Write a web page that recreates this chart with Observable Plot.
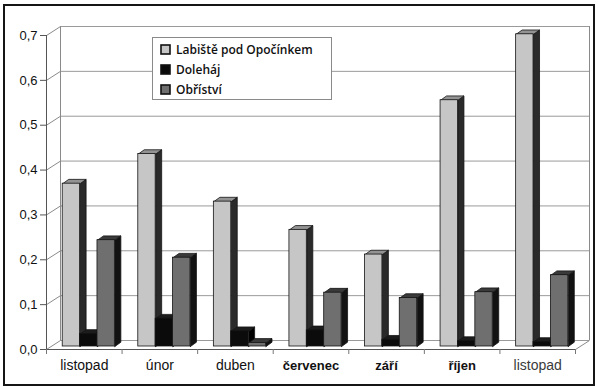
<!DOCTYPE html>
<html>
<head>
<meta charset="utf-8">
<script src="https://cdn.jsdelivr.net/npm/d3@7"></script>
<script src="https://cdn.jsdelivr.net/npm/@observablehq/plot@0.6"></script>
<style>
  html, body { margin: 0; padding: 0; background: #fff; }
  #chart { position: relative; width: 598px; height: 387px; overflow: hidden; }
  #chart > svg { position: absolute; left: 0; top: 0; }
  #border { position: absolute; left: 3px; top: 4px; width: 592px; height: 382px;
            box-sizing: border-box; border: 2px solid #151515; pointer-events: none; }
  #legend { position: absolute; left: 152px; top: 37px; width: 180px; height: 63px;
            box-sizing: border-box; border: 1px solid #8a8a8a; background: #fff;
            padding: 2px 0 0 8px; }
  #legend .lg-swatches { margin: 0 !important; columns: auto !important;
            font: 600 12px "Open Sans", sans-serif !important; color: #111; }
  #legend .lg-swatch { display: flex !important; align-items: center; height: 19.7px;
            padding: 0 !important; margin: 0 !important; }
  #legend .lg-swatch svg { margin-right: 6px !important; overflow: visible; }
  #legend .lg-swatch svg rect { stroke: #111; stroke-width: 1.6px; }
</style>
</head>
<body>
<div id="chart"><div id="border"></div></div>
<script>
// Months of sampling (November to the following November)
const months = ["listopad", "únor", "duben", "červenec", "září", "říjen", "listopad"];
// Sampling sites
const series = ["Labiště pod Opočínkem", "Doleháj", "Obříství"];
// Measured values per site, one per month
const labiste  = [0.363, 0.429, 0.323, 0.260, 0.205, 0.549, 0.696];
const dolehaj  = [0.028, 0.062, 0.034, 0.036, 0.015, 0.012, 0.010];
const obristvi = [0.237, 0.198, 0.008, 0.120, 0.108, 0.121, 0.159];
// Value axis ticks
const yTicks = [0, 0.1, 0.2, 0.3, 0.4, 0.5, 0.6, 0.7];

// Layout of the pseudo-3D column chart
const W = 598, H = 387;
const mL = 46, mR = 23, mT = 35, mB = 38;
const yMax = 0.7;
const ux = (W - mL - mR) / months.length;   // pixels per category
const uy = (H - mT - mB) / yMax;            // pixels per value unit
const wallDX = 14 / ux, wallDY = 9 / uy;     // depth of the back wall
const barDX = 6 / ux, barDY = 4.3 / uy;      // depth of each column
const barOffX = 4.5, barOffY = -3;           // columns sit a bit behind the front edge
const groupPad = 0.155, barW = 0.23;

const colors = {
  front: ["#c6c6c6", "#0b0b0b", "#6f6f6f"],
  top:   ["#939393", "#1c1c1c", "#3a3a3a"],
  side:  ["#2a2a2a", "#000000", "#121212"]
};
const edge = "#141414";

const values = [labiste, dolehaj, obristvi];
const bars = [];
months.forEach((m, i) => series.forEach((s, j) => {
  const x1 = i + groupPad + j * barW;
  bars.push({i, j, series: s, v: values[j][i], x1, x2: x1 + barW});
}));

const sideFace = b => [[b.x2, 0], [b.x2, b.v], [b.x2 + barDX, b.v + barDY], [b.x2 + barDX, barDY], [b.x2, 0]];
const topFace = b => [[b.x1, b.v], [b.x2, b.v], [b.x2 + barDX, b.v + barDY], [b.x1 + barDX, b.v + barDY], [b.x1, b.v]];
const faces = (shape, j) => bars.filter(b => b.j === j)
  .flatMap((b, k) => shape(b).map(([x, y]) => ({x, y, id: k})));

const faceMarks = (shape, key) => series.map((s, j) =>
  Plot.line(faces(shape, j), {
    x: "x", y: "y", z: "id", curve: "linear",
    fill: colors[key][j], stroke: edge, strokeWidth: 0.8,
    dx: barOffX, dy: barOffY
  }));

const fmt = d => d.toFixed(1).replace(".", ",");
const centers = idx => idx.map(i => i + 0.5);

const plot = Plot.plot({
  width: W, height: H,
  marginLeft: mL, marginRight: mR, marginTop: mT, marginBottom: mB,
  style: {fontFamily: "'Liberation Sans', Arial, sans-serif", fontSize: "13px", color: "#111", background: "transparent"},
  x: {domain: [0, months.length], axis: null},
  y: {domain: [0, yMax], axis: null},
  color: {domain: series, range: colors.front},
  marks: [
    // back wall grid
    Plot.ruleY(yTicks, {x1: () => 0, x2: () => months.length, dx: 14, dy: -9, stroke: "#9a9a9a", strokeWidth: 1}),
    Plot.ruleX([0, months.length], {y1: () => 0, y2: () => yMax, dx: 14, dy: -9, stroke: "#8a8a8a", strokeWidth: 1}),
    // side wall grid
    Plot.link(yTicks, {x1: () => 0, y1: d => d, x2: () => wallDX, y2: d => d + wallDY, stroke: "#8a8a8a", strokeWidth: 1}),
    // floor edges
    Plot.link([months.length], {x1: d => d, y1: () => 0, x2: d => d + wallDX, y2: () => wallDY, stroke: "#8a8a8a", strokeWidth: 1}),
    // columns: side faces, tops, then fronts
    ...faceMarks(sideFace, "side"),
    ...faceMarks(topFace, "top"),
    Plot.rect(bars, {x1: "x1", x2: "x2", y1: () => 0, y2: "v", fill: "series", stroke: edge, strokeWidth: 0.8, dx: barOffX, dy: barOffY}),
    // front axis lines
    Plot.ruleX([0], {y1: () => 0, y2: () => yMax, stroke: "#555", strokeWidth: 1}),
    Plot.ruleY([0], {x1: () => 0, x2: () => months.length, stroke: "#555", strokeWidth: 1}),
    Plot.axisY({ticks: yTicks, tickFormat: fmt, tickSize: 6, tickPadding: 3, fontSize: 13, stroke: "#555"}),
    Plot.axisX({ticks: d3.range(months.length + 1), tickFormat: () => "", tickSize: 5, stroke: "#777"}),
    Plot.axisX({ticks: centers([0, 1, 2]), tickFormat: d => months[Math.floor(d)], tickSize: 0, tickPadding: 11, fontSize: 14}),
    Plot.axisX({ticks: centers([3, 4, 5]), tickFormat: d => months[Math.floor(d)], tickSize: 0, tickPadding: 11, fontSize: 13, fontWeight: "bold"}),
    Plot.axisX({ticks: centers([6]), tickFormat: d => months[Math.floor(d)], tickSize: 0, tickPadding: 11, fontSize: 14, color: "#3a3a3a"})
  ]
});

const chart = document.getElementById("chart");
chart.insertBefore(plot, chart.firstChild);

const legend = Plot.legend({
  color: {domain: series, range: colors.front},
  legend: "swatches", columns: 1, swatchSize: 9, className: "lg"
});
const box = document.createElement("div");
box.id = "legend";
box.appendChild(legend);
chart.insertBefore(box, document.getElementById("border"));
</script>
</body>
</html>
